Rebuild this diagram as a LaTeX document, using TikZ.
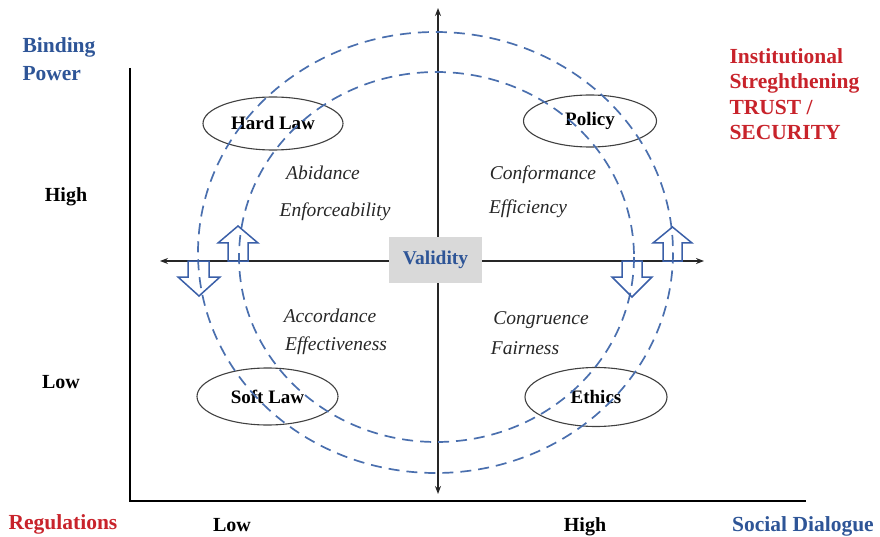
\documentclass[tikz,border=0pt]{standalone}
\usepackage{fontspec}
\setmainfont{Liberation Serif}
\usetikzlibrary{arrows.meta,shapes.geometric}
\definecolor{dblue}{HTML}{2E5597}
\definecolor{dred}{HTML}{C8232B}
\definecolor{cblue}{HTML}{4A6FAE}
\definecolor{ablue}{HTML}{3A5FA8}
\definecolor{vgray}{HTML}{D9D9D9}
\tikzset{
  lawnode/.style={ellipse,draw=black!75,line width=1.1pt,inner sep=0pt,font=\fontsize{19}{22}\selectfont\bfseries},
  itext/.style={font=\fontsize{19.5}{22}\selectfont\itshape,text=black!85},
  blabel/.style={font=\fontsize{20}{24}\selectfont\bfseries,anchor=base},
  biglabel/.style={font=\fontsize{21.5}{25}\selectfont\bfseries,anchor=base west},
  dcircle/.style={draw=cblue,line width=1.7pt,dash pattern=on 11pt off 7pt},
  blockarrow/.style={draw=ablue,line width=1.5pt,line join=miter,fill=none},
  axisline/.style={line width=2.2pt,black},
  crossarrow/.style={line width=1.4pt,black!85,{Stealth[length=8pt,width=6pt]}-{Stealth[length=8pt,width=6pt]}}
}
\begin{document}
\begin{tikzpicture}[x=1pt,y=-1pt]
\useasboundingbox (0,0) rectangle (880,537);
% main axes
\coordinate (ytop) at (130,68);
\coordinate (origin) at (130,501);
\coordinate (xend) at (806,501);
\draw[axisline] (ytop) -- (origin) -- (xend);
% central cross
\coordinate (vt) at (438,8);
\coordinate (vb) at (438,494);
\coordinate (hl) at (160,261);
\coordinate (hr) at (704,261);
\draw[crossarrow] (vb) -- (vt);
\draw[crossarrow] (hl) -- (hr);
% ellipses
\node[lawnode,minimum width=140pt,minimum height=53pt] (hard) at (273,123.5) {Hard Law};
\node[lawnode,minimum width=133pt,minimum height=52pt] (policy) at (590,121) {Policy};
\node[lawnode,minimum width=141pt,minimum height=57pt] (soft) at (267.5,396.5) {Soft Law};
\node[lawnode,minimum width=142pt,minimum height=59pt] (ethics) at (596,397) {Ethics};
% dashed circles
\draw[dcircle] (435.5,252.5) ellipse [x radius=237.5, y radius=220.5];
\draw[dcircle] (436.5,257) ellipse [x radius=197.5, y radius=185];
% block arrows
\draw[blockarrow] (188,261) -- (188,277) -- (178,277) -- (199,296) -- (220,277) -- (209,277) -- (209,261) -- cycle;
\draw[blockarrow] (228,261) -- (228,243) -- (218,243) -- (238,226) -- (258,243) -- (248,243) -- (248,261) -- cycle;
\draw[blockarrow] (622,261) -- (622,277) -- (612,277) -- (632,297) -- (652,277) -- (642,277) -- (642,261) -- cycle;
\draw[blockarrow] (663,261) -- (663,243) -- (653,243) -- (672.5,227) -- (692,243) -- (682,243) -- (682,261) -- cycle;
% validity
\node[fill=vgray,minimum width=93pt,minimum height=46pt,inner sep=0pt,text=dblue,font=\fontsize{19.5}{22}\selectfont\bfseries] (validity) at (435.5,260) {Validity};
% italic texts
\node[itext] (abid) at (323,173) {Abidance};
\node[itext] (enf) at (335,212) {Enforceability};
\node[itext] (conf) at (543,175) {Conformance};
\node[itext] (effi) at (528,209) {Efficiency};
\node[itext] (acc) at (330,316) {Accordance};
\node[itext] (effe) at (336,346) {Effectiveness};
\node[itext] (cong) at (541,320) {Congruence};
\node[itext] (fair) at (525,348) {Fairness};
% labels
\node[biglabel,text=dblue] (bind1) at (19,53) {Binding};
\node[biglabel,text=dblue] (bind2) at (19,81) {Power};
\node[biglabel,text=dred] (inst1) at (726,64) {Institutional};
\node[biglabel,text=dred] (inst2) at (726,89) {Streghthening};
\node[biglabel,text=dred] (inst3) at (726,115) {TRUST /};
\node[biglabel,text=dred] (inst4) at (726,140) {SECURITY};
\node[blabel] (yhigh) at (66,202) {High};
\node[blabel] (ylow) at (61,388) {Low};
\node[biglabel,text=dred,anchor=base] (reg) at (63,529) {Regulations};
\node[blabel] (xlow) at (232,531) {Low};
\node[blabel] (xhigh) at (585,531) {High};
\node[biglabel,text=dblue,anchor=base] (soc) at (803,531) {Social Dialogue};
\end{tikzpicture}
\end{document}
